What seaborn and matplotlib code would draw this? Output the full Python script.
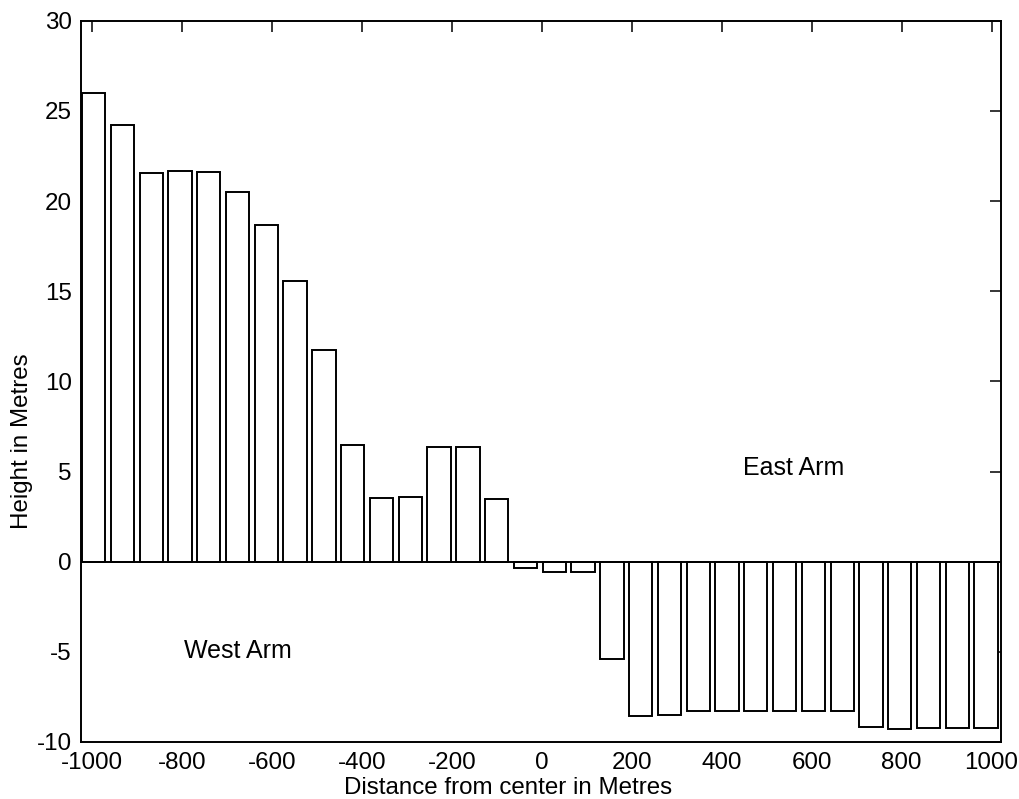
import matplotlib
matplotlib.use("Agg")
import matplotlib.pyplot as plt
import seaborn as sns
import pandas as pd

# Bar centres (distance from centre, metres)
distance = [-996, -932, -868, -804, -740, -676, -612, -548, -484, -420,
            -356, -292, -228, -164, -100, -36, 28, 92, 156, 220,
            284, 348, 412, 476, 540, 604, 668, 732, 796, 860,
            924, 988]
# Heights (metres)
height = [26.0, 24.2, 21.56, 21.68, 21.63, 20.48, 18.67, 15.58, 11.76, 6.47,
          3.52, 3.61, 6.36, 6.36, 3.5, -0.36, -0.55, -0.55, -5.4, -8.55,
          -8.5, -8.28, -8.28, -8.28, -8.28, -8.28, -8.28, -9.18, -9.27, -9.25,
          -9.24, -9.24]

x_ticks = [-1000, -800, -600, -400, -200, 0, 200, 400, 600, 800, 1000]
y_ticks = [-10, -5, 0, 5, 10, 15, 20, 25, 30]
x_label = "Distance from center in Metres"
y_label = "Height in Metres"
annotations = [("West Arm", -796, -5.32), ("East Arm", 448, 4.82)]

sns.set_style("white")
plt.rcParams['font.family'] = ['Liberation Sans', 'DejaVu Sans']

df = pd.DataFrame({"distance": distance, "height": height})

fig = plt.figure(figsize=(10.19, 7.99), dpi=100)
ax = fig.add_axes([81/1019, 1 - 742/799, (1001 - 81)/1019, (742 - 20.7)/799])

sns.barplot(data=df, x="distance", y="height", native_scale=True, width=0.81,
            color="white", saturation=1, edgecolor="black", linewidth=1.4,
            errorbar=None, ax=ax, zorder=2)

ax.axhline(0, color="black", lw=1.4, zorder=3)

ax.set_xlim(-1024, 1021)
ax.set_ylim(-10, 30)
ax.set_xticks(x_ticks)
ax.set_yticks(y_ticks)
ax.set_xticklabels([str(v) for v in x_ticks])
ax.set_yticklabels([str(v) for v in y_ticks])
ax.tick_params(axis="both", direction="in", top=True, right=True, length=8,
               width=1.1, color="black", labelsize=17.4, labelcolor="black")
ax.tick_params(axis="x", pad=7)
ax.tick_params(axis="y", pad=6.5)

for s in ax.spines.values():
    s.set_color("black")
    s.set_linewidth(1.4)
    s.set_visible(True)

ax.set_xlabel(x_label, fontsize=17.4, color="black")
ax.set_ylabel(y_label, fontsize=17.4, color="black")
ax.xaxis.set_label_coords((507.7 - 81) / 920, (742 - 776.5) / 721.3)
ax.yaxis.set_label_coords((33 - 81) / 920, (742 - 441.5) / 721.3)

for txt, xx, yy in annotations:
    ax.text(xx, yy, txt, fontsize=18, ha="left", va="baseline", color="black")

fig.savefig("out.png", dpi=100, facecolor="white")
